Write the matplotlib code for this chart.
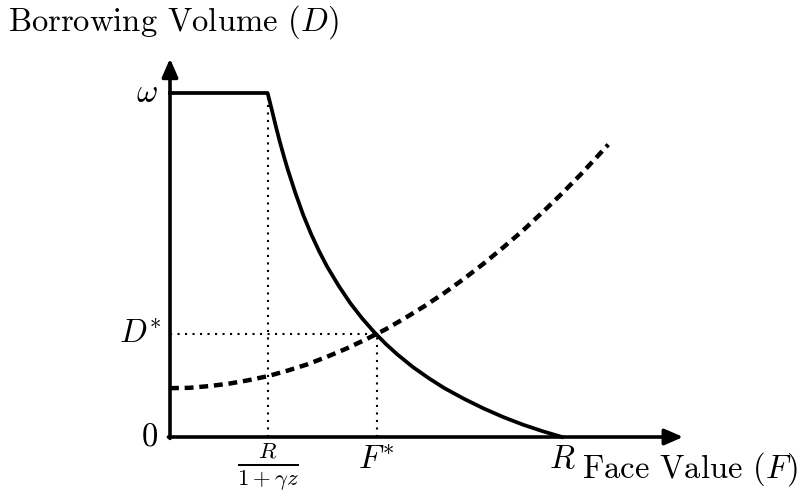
import matplotlib
matplotlib.use('Agg')
import matplotlib.pyplot as plt

plt.rcParams['font.family'] = 'serif'
plt.rcParams['font.serif'] = ['cmr10']
plt.rcParams['mathtext.fontset'] = 'cm'
plt.rcParams['axes.unicode_minus'] = False

# units: R = 1 on x, omega = 1 on y
R = 1.0
F_low = 0.249      # R / (1 + gamma z)
F_star = 0.527
D_star = 0.299
omega = 1.0

# supply of loans (solid)
supply_F = [0.0, 0.249, 0.26, 0.27, 0.28, 0.29, 0.30, 0.32, 0.34, 0.36, 0.38, 0.40,
            0.43, 0.46, 0.49, 0.52, 0.55, 0.58, 0.62, 0.66, 0.70, 0.75, 0.80, 0.85,
            0.90, 0.95, 1.0]
supply_D = [1.0, 1.0, 0.950, 0.903, 0.859, 0.818, 0.779, 0.709, 0.645, 0.590, 0.541, 0.497,
            0.440, 0.389, 0.345, 0.306, 0.271, 0.240, 0.203, 0.171, 0.142, 0.111, 0.083, 0.058,
            0.036, 0.017, 0.0]

# demand (dashed)
demand_F = [0.0, 0.05, 0.10, 0.15, 0.20, 0.25, 0.30, 0.35, 0.40, 0.45, 0.50, 0.55,
            0.60, 0.65, 0.70, 0.75, 0.80, 0.85, 0.90, 0.95, 1.00, 1.05, 1.118]
demand_D = [0.142, 0.143, 0.148, 0.155, 0.165, 0.177, 0.193, 0.211, 0.233, 0.257, 0.284, 0.313,
            0.346, 0.381, 0.419, 0.460, 0.504, 0.551, 0.600, 0.653, 0.708, 0.766, 0.850]

x_end = 1.309
y_end = 1.10

fig = plt.figure(figsize=(8.07, 4.91), dpi=100)
ax = fig.add_axes([0, 0, 1, 1])
ax.set_xlim(-170 / 392, 637 / 392)
ax.set_ylim(-54 / 344, 437 / 344)
ax.axis('off')

# axes with arrows
head = dict(arrowstyle='-|>,head_length=0.55,head_width=0.24', lw=2.6, color='k',
            mutation_scale=20, shrinkA=0, shrinkB=0)
ax.annotate('', xy=(x_end, 0), xytext=(-0.004, 0), arrowprops=head)
ax.annotate('', xy=(0, y_end), xytext=(0, -0.004), arrowprops=head)

# dotted guides
dot = dict(color='k', lw=1.5, linestyle=(0, (1, 2.6)))
ax.plot([F_low, F_low], [0, omega], **dot)
ax.plot([F_star, F_star], [0, D_star], **dot)
ax.plot([0, F_star], [D_star, D_star], **dot)

ax.plot(supply_F, supply_D, color='k', lw=2.7, solid_joinstyle='round')
ax.plot(demand_F, demand_D, color='k', lw=3.2, dashes=(2.0, 1.3))

fs = 23.5
ax.text(-0.413, 1.206, 'Borrowing Volume ($D$)', fontsize=fs, ha='left', va='center')
ax.text(1.051, -0.092, 'Face Value ($F$)', fontsize=fs, ha='left', va='center')
ax.text(-0.03, omega, r'$\omega$', fontsize=fs, ha='right', va='center')
ax.text(-0.02, D_star, r'$D^{*}$', fontsize=fs, ha='right', va='center')
ax.text(-0.03, 0, r'$0$', fontsize=fs, ha='right', va='center')
ax.text(R, -0.066, r'$R$', fontsize=fs, ha='center', va='center')
ax.text(F_star, -0.066, r'$F^{*}$', fontsize=fs, ha='center', va='center')
ax.text(F_low, -0.085, r'$\frac{R}{1+\gamma z}$', fontsize=fs, ha='center', va='center')

fig.savefig('out.png', dpi=100)
